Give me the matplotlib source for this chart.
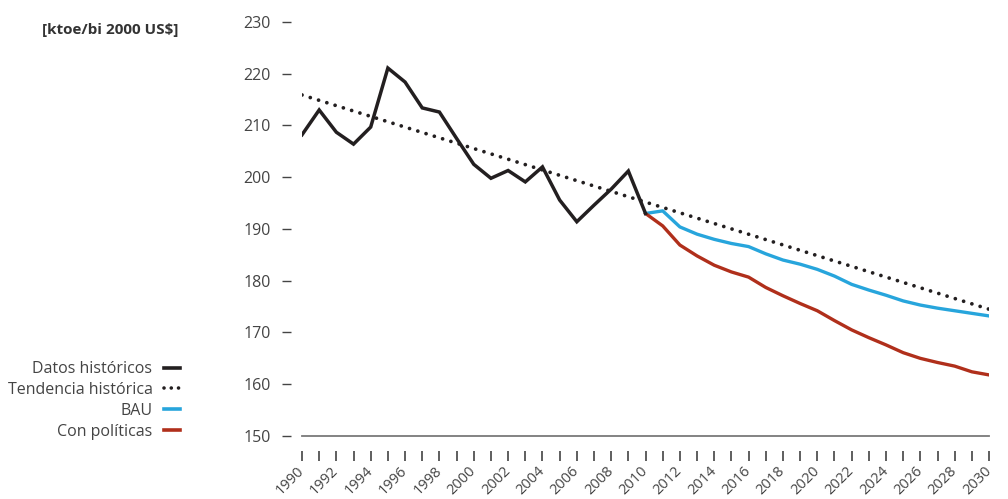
import matplotlib
matplotlib.use("Agg")
import matplotlib.pyplot as plt
from matplotlib.lines import Line2D

plt.rcParams['font.family'] = ['Open Sans', 'DejaVu Sans']

# Intensidad energética [ktoe/bi 2000 US$]
anios_hist = list(range(1990, 2011))
datos_hist = [208.2, 213.0, 208.7, 206.4, 209.7, 221.1, 218.4, 213.4, 212.6, 207.5,
              202.5, 199.8, 201.3, 199.1, 202.0, 195.6, 191.4, 194.6, 197.7, 201.2,
              193.0]

anios_tend = [1990, 2030]
tendencia = [215.9, 174.5]

anios_proy = list(range(2010, 2031))
bau = [193.0, 193.5, 190.4, 189.0, 188.0, 187.2, 186.6, 185.2, 184.0, 183.2,
       182.2, 180.9, 179.3, 178.2, 177.2, 176.1, 175.3, 174.7, 174.2, 173.7,
       173.2]
con_politicas = [193.0, 190.6, 186.9, 184.8, 183.0, 181.7, 180.7, 178.7, 177.1, 175.6,
                 174.2, 172.3, 170.5, 169.0, 167.6, 166.1, 165.0, 164.2, 163.5, 162.4,
                 161.8]

y_ticks = list(range(150, 231, 10))
x_ticks = list(range(1990, 2031))

NEGRO = '#231f20'
AZUL = '#27a5dc'
ROJO = '#b02f1b'
GRIS = '#444444'

fig = plt.figure(figsize=(10.08, 4.99), dpi=100)
ax = fig.add_axes([0.2996, 0.1263, 0.6816, 0.8296])

punteado = (0, (0.01, 2.3))
ax.plot(anios_tend, tendencia, color=NEGRO, lw=2.7, linestyle=punteado,
        dash_capstyle='round')
ax.plot(anios_proy, bau, color=AZUL, lw=2.4, solid_joinstyle='round')
ax.plot(anios_proy, con_politicas, color=ROJO, lw=2.4, solid_joinstyle='round')
ax.plot(anios_hist, datos_hist, color=NEGRO, lw=2.5, solid_joinstyle='miter')

ax.set_xlim(1990, 2030)
ax.set_ylim(150, 230)

# ejes: sin spines, ticks separados de la línea base
for lado in ['top', 'right', 'left', 'bottom']:
    ax.spines[lado].set_visible(False)
ax.spines['left'].set_position(('outward', 8))
ax.spines['bottom'].set_position(('outward', 11))
ax.axhline(150, color='#7a7a7a', lw=1.3, clip_on=False)

ax.set_yticks(y_ticks)
ax.set_yticklabels([str(v) for v in y_ticks])
ax.tick_params(axis='y', length=6.5, width=1.0, color='#444444', pad=8,
               labelsize=11.5, labelcolor=GRIS)

ax.set_xticks(x_ticks)
ax.set_xticklabels([str(a) if a % 2 == 0 else '' for a in x_ticks])
ax.tick_params(axis='x', direction='out', length=7.5, width=1.1, color='#333333',
               pad=5, labelsize=10.5, labelcolor=GRIS)
for lbl in ax.get_xticklabels():
    lbl.set_rotation(45)
    lbl.set_ha('right')
    lbl.set_va('center')
    lbl.set_rotation_mode('anchor')

fig.text(0.0417, 0.94, '[ktoe/bi 2000 US$]', fontsize=11, fontweight='bold',
         color='#333333', ha='left', va='center')

handles = [
    Line2D([], [], color=NEGRO, lw=2.6),
    Line2D([], [], color=NEGRO, lw=2.6, linestyle=(0, (0.01, 2.0)), dash_capstyle='round'),
    Line2D([], [], color=AZUL, lw=2.6),
    Line2D([], [], color=ROJO, lw=2.6),
]
etiquetas = ['Datos históricos', 'Tendencia histórica', 'BAU', 'Con políticas']
leg = fig.legend(handles, etiquetas, loc='upper right', bbox_to_anchor=(0.179, 0.276),
                 frameon=False, markerfirst=False, fontsize=11.5, borderpad=0,
                 handlelength=1.0, handletextpad=0.75, labelspacing=0.3,
                 borderaxespad=0)
for t in leg.get_texts():
    t.set_color(GRIS)

fig.savefig('out.png', dpi=100, facecolor='white')
